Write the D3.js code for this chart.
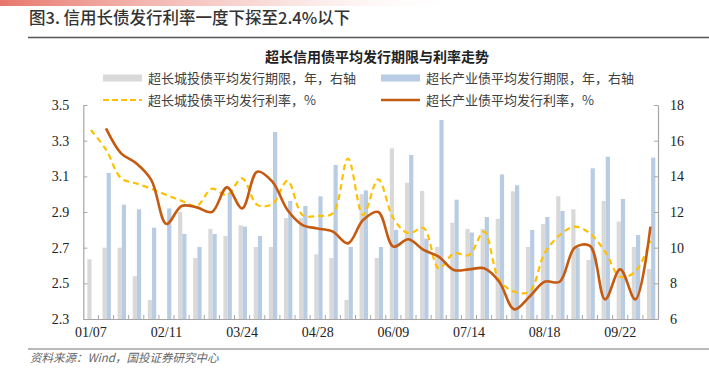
<!DOCTYPE html>
<html><head><meta charset="utf-8">
<script src="https://cdn.jsdelivr.net/npm/d3@7"></script>
<style>
html,body{margin:0;padding:0;background:#fff;}
svg{display:block;}
</style></head>
<body>
<svg id="chart" width="709" height="381"></svg>
<script>
// ---------- data ----------
const categories = ["01/07","01/14","01/21","01/28","02/04","02/11","02/25","03/03","03/10","03/17",
  "03/24","03/31","04/07","04/14","04/21","04/28","05/12","05/19","05/26","06/02",
  "06/09","06/16","06/23","06/30","07/07","07/14","07/21","07/28","08/04","08/11",
  "08/18","08/25","09/01","09/08","09/15","09/22","09/29","10/13"];
const tickLabels = ["01/07","02/11","03/24","04/28","06/09","07/14","08/18","09/22"];
// 超长城投债平均发行期限（年，右轴）
const chengtouTerm = [9.35,10.0,10.0,8.4,7.07,null,12.0,9.42,11.05,10.65,
  11.25,10.04,10.04,11.66,11.66,9.63,9.42,7.07,13.0,9.42,
  15.57,13.64,13.18,10.04,11.4,11.05,11.05,11.61,13.16,10.04,
  11.33,12.88,12.15,9.31,12.62,11.46,10.04,8.8];
// 超长产业债平均发行期限（年，右轴）
const chanyeTerm = [null,14.19,12.41,12.15,11.12,12.2,10.77,10.04,10.77,13.05,
  11.18,10.65,16.49,12.62,12.34,12.88,14.64,10.04,13.21,10.04,
  10.99,15.2,10.5,17.16,12.69,10.85,11.72,14.11,13.5,10.99,
  11.72,12.06,10.0,14.45,15.1,12.73,10.71,15.05];
// 超长城投债平均发行利率（%）
const chengtouRate = [3.36,3.25,3.09,3.06,3.03,2.995,2.963,2.934,3.03,2.995,
  3.089,2.94,2.945,3.074,2.883,2.878,2.893,3.20,2.883,3.083,
  2.865,2.78,2.81,2.584,2.668,2.659,2.79,2.519,2.453,2.453,
  2.668,2.771,2.818,2.78,2.678,2.537,2.565,2.74];
// 超长产业债平均发行利率（%）
const chanyeRate = [null,3.369,3.229,3.173,3.079,2.833,2.934,2.926,2.90,3.038,
  2.92,3.126,3.07,2.911,2.827,2.808,2.79,2.724,2.855,2.90,
  2.706,2.747,2.687,2.65,2.575,2.578,2.584,2.509,2.354,2.425,
  2.509,2.509,2.70,2.71,2.41,2.578,2.41,2.818];
const leftTicks = [2.3,2.5,2.7,2.9,3.1,3.3,3.5];
const rightTicks = [6,8,10,12,14,16,18];
const legendLabels = ["超长城投债平均发行期限，年，右轴","超长产业债平均发行期限，年，右轴",
  "超长城投债平均发行利率，%","超长产业债平均发行利率，%"];

// ---------- layout ----------
const svg = d3.select("#chart");
const plot = {left:83.3, right:658, top:105, bottom:319};
const C = {gray:"#d9d9d9", blue:"#b8cce4", yellow:"#ffc000", orange:"#c55a11", axis:"#a6a6a6", text:"#404040"};
const cjk = "'Noto Sans CJK SC','Noto Sans',sans-serif";
const serif = "'Liberation Serif','Times New Roman',serif";

// header gradient band
const defs = svg.append("defs");
const g1 = defs.append("linearGradient").attr("id","hdr").attr("x1","0").attr("x2","1");
g1.append("stop").attr("offset","0").attr("stop-color","#e5675c").attr("stop-opacity",0.9);
g1.append("stop").attr("offset","0.55").attr("stop-color","#f2b3ac").attr("stop-opacity",0.5);
g1.append("stop").attr("offset","1").attr("stop-color","#ffffff").attr("stop-opacity",0);
svg.append("rect").attr("x",0).attr("y",0).attr("width",470).attr("height",6).attr("fill","url(#hdr)");

svg.append("text").attr("x",29).attr("y",24).attr("font-family",cjk).attr("font-size",16.5)
  .attr("font-weight",500).attr("fill","#333").text("图3. 信用长债发行利率一度下探至2.4%以下");
svg.append("line").attr("x1",28).attr("x2",709).attr("y1",37.5).attr("y2",37.5)
  .attr("stroke","#555").attr("stroke-width",1.5);

svg.append("text").attr("x",377).attr("y",62).attr("text-anchor","middle").attr("font-family",cjk)
  .attr("font-size",14).attr("font-weight",700).attr("fill","#222").text("超长信用债平均发行期限与利率走势");

// ---------- scales ----------
const x0 = d3.scaleBand().domain(categories).range([plot.left, plot.right]).paddingInner(0).paddingOuter(0);
const x1 = d3.scaleBand().domain(["g","b"]).range([0, x0.bandwidth()]).paddingInner(0).paddingOuter(0.8).align(0.6);
const yL = d3.scaleLinear().domain([2.3,3.5]).range([plot.bottom, plot.top]);
const yR = d3.scaleLinear().domain([6,18]).range([plot.bottom, plot.top]);

// ---------- bars ----------
const barData = [];
categories.forEach((c,i)=>{
  if (chengtouTerm[i]!=null) barData.push({c, k:"g", v:chengtouTerm[i]});
  if (chanyeTerm[i]!=null) barData.push({c, k:"b", v:chanyeTerm[i]});
});
svg.append("g").selectAll("rect").data(barData).join("rect")
  .attr("x", d=>x0(d.c)+x1(d.k))
  .attr("width", x1.bandwidth())
  .attr("y", d=>yR(d.v))
  .attr("height", d=>yR(6)-yR(d.v))
  .attr("fill", d=>d.k==="g"?C.gray:C.blue);

// ---------- lines ----------
const cx = c => x0(c)+x0.bandwidth()/2;
const line = d3.line().defined(d=>d.v!=null).x(d=>cx(d.c)).y(d=>yL(d.v)).curve(d3.curveCatmullRom.alpha(0.5));
svg.append("path").datum(categories.map((c,i)=>({c, v:chengtouRate[i]})))
  .attr("d", line).attr("fill","none").attr("stroke",C.yellow).attr("stroke-width",2.2)
  .attr("stroke-dasharray","6,4");
svg.append("path").datum(categories.map((c,i)=>({c, v:chanyeRate[i]})))
  .attr("d", line).attr("fill","none").attr("stroke",C.orange).attr("stroke-width",2.6);

// ---------- axes ----------
function styleAxis(g){
  g.selectAll(".domain").attr("stroke",C.axis).attr("stroke-width",1.2);
  g.selectAll(".tick line").attr("stroke",C.axis);
  g.selectAll("text").attr("font-family",serif).attr("font-size",14).attr("fill","#222");
}
svg.append("g").attr("transform",`translate(${plot.left},0)`)
  .call(d3.axisLeft(yL).tickValues(leftTicks).tickSize(-4).tickPadding(14).tickSizeOuter(0).tickFormat(d3.format(".1f")))
  .call(styleAxis);
svg.append("g").attr("transform",`translate(${plot.right},0)`)
  .call(d3.axisRight(yR).tickValues(rightTicks).tickSize(-4).tickPadding(12).tickSizeOuter(0))
  .call(styleAxis);
const xg = svg.append("g").attr("transform",`translate(0,${plot.bottom})`)
  .call(d3.axisBottom(x0).tickValues(tickLabels).tickSize(0).tickPadding(8).tickSizeOuter(0))
  .call(styleAxis);
// category boundary ticks (inward)
svg.append("g").selectAll("line").data(categories.slice(1)).join("line")
  .attr("x1", d=>x0(d)).attr("x2", d=>x0(d)).attr("y1", plot.bottom).attr("y2", plot.bottom-4)
  .attr("stroke",C.axis);

// ---------- legend ----------
const lg = svg.append("g").attr("font-family",cjk).attr("font-size",13).attr("fill",C.text);
const lx = [103, 381], ly = [78, 100];
lg.append("rect").attr("x",lx[0]).attr("y",ly[0]-3.5).attr("width",39).attr("height",7).attr("fill",C.gray);
lg.append("rect").attr("x",lx[1]).attr("y",ly[0]-3.5).attr("width",39).attr("height",7).attr("fill",C.blue);
lg.append("line").attr("x1",lx[0]).attr("x2",lx[0]+39).attr("y1",ly[1]).attr("y2",ly[1])
  .attr("stroke",C.yellow).attr("stroke-width",2.2).attr("stroke-dasharray","6,3");
lg.append("line").attr("x1",lx[1]).attr("x2",lx[1]+39).attr("y1",ly[1]).attr("y2",ly[1])
  .attr("stroke",C.orange).attr("stroke-width",2.6);
[[0,0],[1,0],[0,1],[1,1]].forEach(([c,r],i)=>{
  lg.append("text").attr("x",lx[c]+45).attr("y",ly[r]).attr("dy","0.35em").text(legendLabels[i]);
});

// ---------- source ----------
svg.append("line").attr("x1",28).attr("x2",709).attr("y1",349).attr("y2",349)
  .attr("stroke","#777").attr("stroke-width",1.2);
svg.append("text").attr("x",30).attr("y",362).attr("font-family",cjk).attr("font-size",11.5)
  .attr("font-style","italic").attr("fill","#666").text("资料来源：Wind，国投证券研究中心");
</script>
</body></html>
